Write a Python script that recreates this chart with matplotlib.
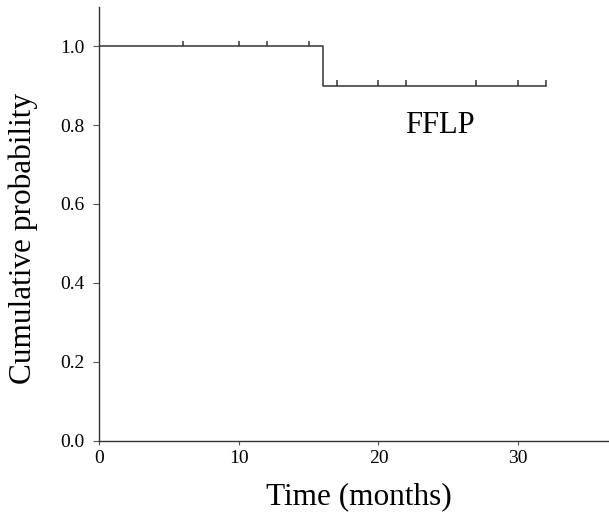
import matplotlib
matplotlib.use('Agg')
import matplotlib.pyplot as plt

# step function (Kaplan-Meier)
step_times = [0, 16, 32]
step_surv = [1.0, 0.9, 0.9]

censor_times = [6, 10, 12, 15, 17, 20, 22, 27, 30, 32]
censor_surv = [1.0, 1.0, 1.0, 1.0, 0.9, 0.9, 0.9, 0.9, 0.9, 0.9]

x_ticks = [0, 10, 20, 30]
y_ticks = [0.0, 0.2, 0.4, 0.6, 0.8, 1.0]

plt.rcParams['font.family'] = ['Liberation Serif', 'DejaVu Serif']

fig = plt.figure(figsize=(6.09, 5.18), dpi=100)
ax = fig.add_axes([0.1626, 0.1492, 0.8374, 0.8378])

ax.step(step_times, step_surv, where='post', color='#333333', lw=1.1)
ax.vlines(censor_times, censor_surv, [s + 0.014 for s in censor_surv], color='#333333', lw=1.1)

ax.text(24.4, 0.80, 'FFLP', fontsize=22, ha='center', va='center')

ax.set_xlim(0, 36.5)
ax.set_ylim(0, 1.1)
ax.set_xticks(x_ticks)
ax.set_yticks(y_ticks)
ax.set_yticklabels(['%.1f' % v for v in y_ticks])
ax.tick_params(labelsize=14, width=0.8, color='#555555')
ax.tick_params(axis='x', length=3, pad=4)
ax.tick_params(axis='y', length=4.5, pad=6)
ax.set_xlabel('Time (months)', fontsize=22.5)
ax.set_ylabel('Cumulative probability', fontsize=22.5)
ax.xaxis.set_label_coords(0.509, -0.095)
ax.yaxis.set_label_coords(-0.12, 0.465)

for s in ['top', 'right']:
	ax.spines[s].set_visible(False)
for s in ['left', 'bottom']:
	ax.spines[s].set_color('#333333')
	ax.spines[s].set_linewidth(1.0)

fig.savefig('out.png', dpi=100)
